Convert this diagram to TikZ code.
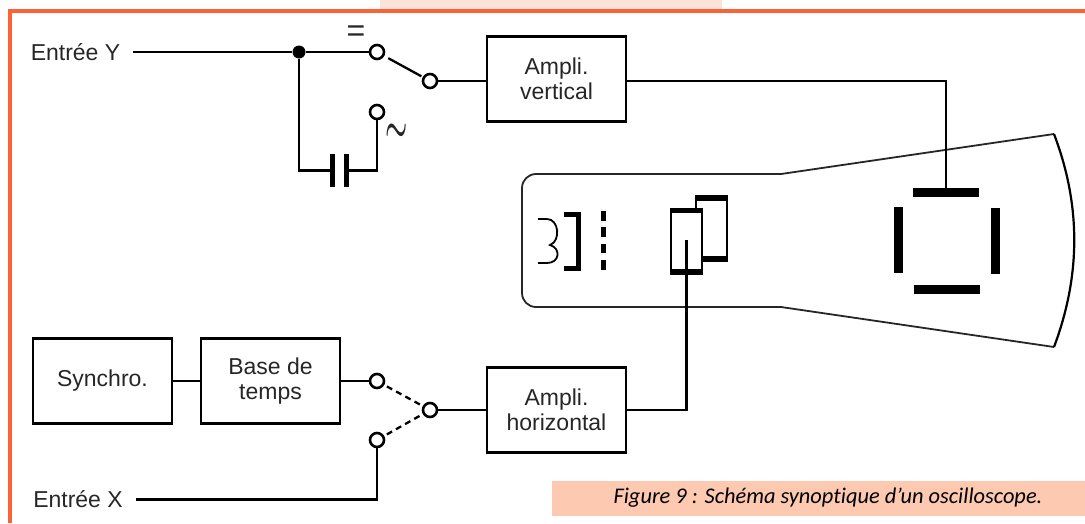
\documentclass[tikz,border=0pt]{standalone}
\usepackage{fontspec}
\setmainfont{Liberation Sans}
\newfontfamily\captionfont[Ligatures=NoCommon]{Carlito}
\definecolor{framecol}{HTML}{FB6236}
\definecolor{stripcol}{HTML}{FCE3DA}
\definecolor{capcol}{HTML}{FDC9B1}
\definecolor{inkcol}{HTML}{262626}
\tikzset{
    wire/.style={line width=2.3pt},
    block/.style={draw, line width=2.7pt, minimum width=139pt, minimum height=85pt, inner sep=0pt,
        align=center, text=inkcol, font=\fontsize{23}{24.5}\selectfont},
    term/.style={circle, draw, line width=2.6pt, fill=white, minimum size=14pt, inner sep=0pt},
    plate/.style={fill=black, inner sep=0pt},
    inlabel/.style={text=inkcol, inner ysep=0pt, font=\fontsize{23}{25}\selectfont},
}
\begin{document}
\begin{tikzpicture}[x=1pt, y=-1pt]
    \useasboundingbox (0,0) rectangle (1085,523);
    \fill[stripcol] (380,0) rectangle (722,9);
    \fill[capcol] (552,481) rectangle (1085,515.5);
    \draw[framecol, line width=4pt] (10,523) -- (10,10.5) -- (1085,10.5);

    % tube
    \draw[line width=1.8pt, draw=black!85, rounded corners=14pt] (781,174) -- (522,174) -- (522,307) -- (781,307);
    \draw[line width=1.8pt, draw=black!85] (781,174) -- (1054,134);
    \draw[line width=1.8pt, draw=black!85] (781,307) -- (1054,347);
    \draw[line width=2.2pt] (1054,134) .. controls (1081,205) and (1081,275) .. (1054,347);

    % blocks
    \node[block] (amplV) at (556.5,79) {Ampli.\\vertical};
    \node[block] (amplH) at (556.5,410) {Ampli.\\horizontal};
    \node[block] (synchro) at (102.5,381) {Synchro.};
    \node[block] (base) at (270.5,381) {Base de\\temps};

    % inputs
    \node[inlabel, inner xsep=13pt] (entY) at (75.5,52) {Entrée Y};
    \node[inlabel, inner xsep=13.5pt] (entX) at (78,499.5) {Entrée X};
    \node[circle, fill=black, minimum size=13pt, inner sep=0pt] (dot) at (299,52) {};

    % switch contacts
    \node[term] (tDC) at (377,52) {};
    \node[term] (tAC) at (377,112) {};
    \node[term] (tV) at (430,81) {};
    \node[term] (tBase) at (377,381) {};
    \node[term] (tX) at (377,440) {};
    \node[term] (tH) at (430,410) {};
    \node[text=inkcol, inner sep=0pt, font=\fontsize{32}{32}\selectfont] (eqsign) at (356,33.5) {=};
    \node[text=inkcol, inner sep=0pt, yscale=1.8, transform shape, font=\fontsize{30}{30}\selectfont\boldmath] (acsign) at (396.5,133) {$\sim$};

    % capacitor
    \node[plate, minimum width=5pt, minimum height=33.5pt] (capL) at (332.5,170.5) {};
    \node[plate, minimum width=5pt, minimum height=33.5pt] (capR) at (346,170.5) {};

    % deflection plates
    \node[plate, minimum width=66pt, minimum height=9.5pt] (plateT) at (946,192.5) {};
    \node[plate, minimum width=66pt, minimum height=9.5pt] (plateB) at (946.5,289.5) {};
    \node[plate, minimum width=9pt, minimum height=66.5pt] (plateL) at (898,240) {};
    \node[plate, minimum width=9pt, minimum height=66.5pt] (plateR) at (995,241) {};

    % gun
    \draw[line width=1.8pt] (538,219) -- (547,219) .. controls (559,219) and (561,241) .. (550,245)
        .. controls (561,248) and (560,263) .. (547,263) -- (538,263);
    \draw[line width=5pt] (564,214) -- (578,214) -- (578,268) -- (564,268);
    \draw[line width=5pt, dash pattern=on 9.6pt off 6.7pt] (603,211) -- (603,270);
    \fill[black] (695,195.5) rectangle (727.5,201);
    \fill[black] (695,256) rectangle (727.5,262);
    \draw[line width=2pt] (696,196) rectangle (726.5,261);
    \draw[line width=2pt, fill=white] (671,209) rectangle (702,273);
    \fill[black] (670,207.5) rectangle (703,213);
    \fill[black] (670,268.5) rectangle (703,274.5);
    \coordinate (gridH) at (686.5,240);

    % connectors
    \draw[wire] (entY) -- (dot);
    \draw[wire] (dot) -- (tDC);
    \draw[wire] (dot) |- (capL);
    \draw[wire] (capR) -| (tAC);
    \draw[wire, shorten <=4.5pt, shorten >=1.5pt] (tDC) -- (tV);
    \draw[wire] (tV) -- (tV -| amplV.west);
    \draw[wire] (tV -| amplV.east) -| (plateT.north);
    \draw[wire] (synchro) -- (base);
    \draw[wire] (base) -- (tBase);
    \draw[wire, dash pattern=on 6pt off 4.5pt, shorten <=3pt] (tBase) -- (tH);
    \draw[wire, dash pattern=on 6pt off 4.5pt, shorten <=3pt] (tX) -- (tH);
    \draw[wire] (tH) -- (amplH);
    \draw[wire] (amplH) -| (gridH);
    \draw[wire] (entX) -| (tX);

    \node[text=black, inner sep=0pt, font=\captionfont\itshape\fontsize{22.4}{24}\selectfont] (figcap) at (828,498) {Figure 9 : Schéma synoptique d’un oscilloscope.};
\end{tikzpicture}
\end{document}
